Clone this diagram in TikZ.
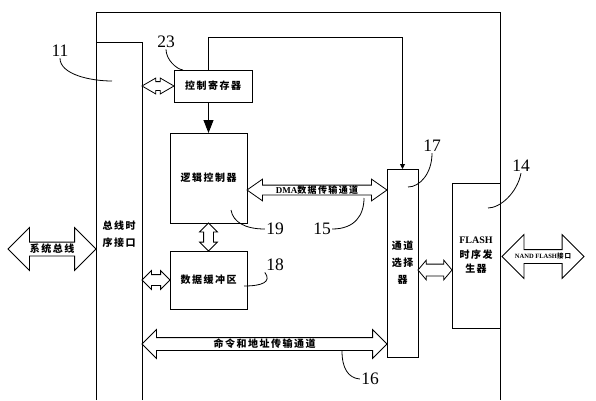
\documentclass[tikz,border=0pt]{standalone}
\usepackage{fontspec}
\setmainfont{Liberation Serif}
\newfontfamily\cjk[LetterSpace=15]{Noto Sans CJK SC}
\usetikzlibrary{shapes.arrows,arrows.meta,calc}

\begin{document}
\begin{tikzpicture}[x=1pt, y=-1pt,
  line width=0.9pt,
  block/.style={rectangle, draw, inner sep=1pt, outer sep=0pt, align=center, font=\cjk\bfseries\fontsize{10}{17}\selectfont},
  dblarrow/.style={double arrow, draw, fill=white, line width=0.8pt, inner xsep=0pt, double arrow tip angle=90},
  arrtext/.style={font=\cjk\bfseries\fontsize{10}{10}\selectfont, inner sep=0pt},
  num/.style={font=\fontsize{17.5}{17.5}\selectfont, inner sep=1pt},
  leader/.style={line width=0.8pt}
]
\useasboundingbox (0,0) rectangle (596,400);

% outer frame, open at the bottom
\draw (96,400) |- (500,12) -- (500,400);

% blocks
\node[block, draw=none, minimum width=46, minimum height=384] (bus) at (119,234) {总线时\\序接口};
\draw (bus.east |- 0,400) |- (bus.north west);
\node[block, minimum width=78, minimum height=32] (ctrl) at (213,86) {控制寄存器};
\node[block, minimum width=77, minimum height=90] (logic) at (208.5,178) {逻辑控制器};
\node[block, minimum width=77, minimum height=58] (buf) at (208.5,280) {数据缓冲区};
\node[block, minimum width=31, minimum height=188] (sel) at (402.5,263) {通道\\选择\\器};
\node[block, minimum width=48, minimum height=145, font=\cjk\bfseries\fontsize{10}{14.5}\selectfont] (flash) at (476,255.5) {{\rmfamily FLASH}\\时序发\\生器};

% control lines
\draw[-{Triangle[length=5pt,width=5pt]}] (ctrl.north -| logic.north) -- ++(0,-33) -| (sel.north);
\draw[-{Triangle[length=13pt,width=10pt]}] (ctrl.south -| logic.north) -- (logic.north);

% data paths
\node[dblarrow, minimum height=88, inner ysep=6.5, double arrow head extend=14.5,
  label={[arrtext]center:系统总线}] (sysbus) at (52,249) {};
\node[dblarrow, minimum height=82, inner ysep=6.5, double arrow head extend=15,
  label={[arrtext, font=\cjk\bfseries\fontsize{6.5}{6.5}\selectfont]center:{\rmfamily NAND FLASH}接口}] (nand) at (543,256.5) {};
\node[dblarrow, minimum height=32, inner ysep=4, double arrow head extend=3.5, double arrow tip angle=60]
  (busctrl) at ($(bus.east |- ctrl.west)!.5!(ctrl.west)$) {};
\node[dblarrow, minimum height=28, inner ysep=4.5, double arrow head extend=4, rotate=90]
  (logbuf) at ($(logic.south)!.5!(buf.north)$) {};
\node[dblarrow, minimum height=28, inner ysep=5, double arrow head extend=4]
  (busbuf) at ($(bus.east |- buf.west)!.5!(buf.west)$) {};
\node[dblarrow, minimum height=140, inner ysep=4.5, double arrow head extend=6, double arrow tip angle=70,
  label={[arrtext, font=\cjk\bfseries\fontsize{9}{9}\selectfont]center:{\rmfamily DMA}数据传输通道}]
  (dma) at ($(logic.east |- 0,190)!.5!(sel.west |- 0,190)$) {};
\node[dblarrow, minimum height=245, inner ysep=6, double arrow head extend=8,
  label={[arrtext]center:命令和地址传输通道}]
  (cmd) at ($(bus.east |- 0,344)!.5!(sel.west |- 0,344)$) {};
\node[dblarrow, minimum height=34, inner ysep=5.5, double arrow head extend=4, double arrow tip angle=100]
  (selflash) at ($(sel.east |- 0,270)!.5!(flash.west |- 0,270)$) {};

% reference numbers
\node[num] (n11) at (60,51) {11};
\node[num] (n23) at (166,42) {23};
\node[num] (n17) at (432,146) {17};
\node[num] (n14) at (521,166) {14};
\node[num] (n19) at (275,229) {19};
\node[num] (n15) at (322,229) {15};
\node[num] (n18) at (275,265) {18};
\node[num] (n16) at (370,379) {16};

\draw[leader] (n11.south) .. controls +(0,16) and (90,81) .. (112,81);
\draw[leader] (n23.south) .. controls +(0,10) and (176,69) .. (183,70);
\draw[leader] (n17.south) .. controls +(0,20) and (420,187) .. (408,187);
\draw[leader] (n14.south) .. controls +(-4,20) and (500,208) .. (488,208);
\draw[leader] (n19.west) .. controls (245,229) and (233,222) .. (231,210);
\draw[leader] (n15.east) .. controls (355,229) and (364,215) .. (364,198);
\draw[leader] (n18.south west) .. controls (272,282) and (262,286) .. (244,286);
\draw[leader] (n16.west) .. controls (348,378) and (342,368) .. (342,351);
\end{tikzpicture}
\end{document}
